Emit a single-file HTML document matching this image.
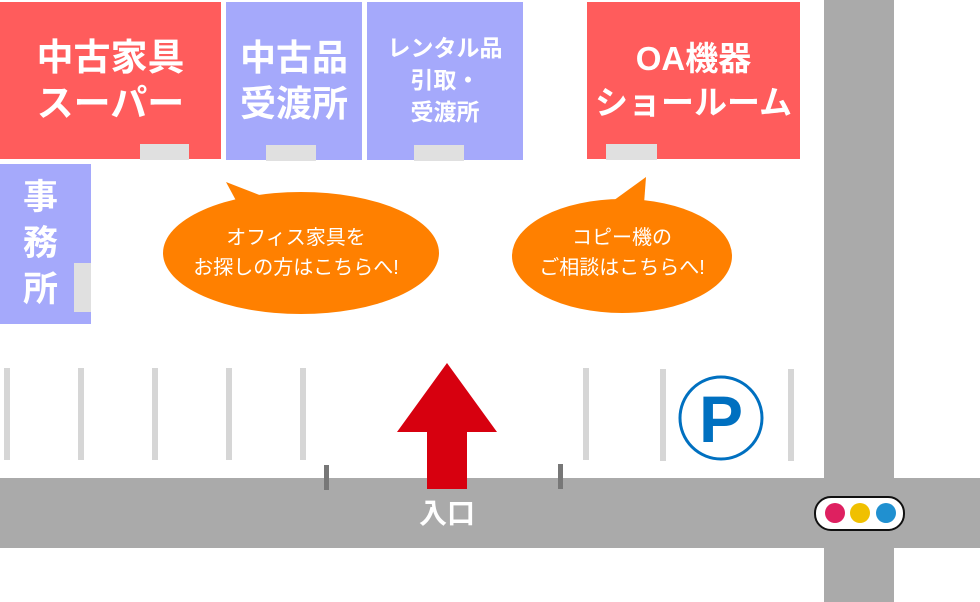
<!DOCTYPE html>
<html><head><meta charset="utf-8"><style>
body{margin:0;width:980px;height:602px;overflow:hidden;background:#fff;font-family:"Liberation Sans","Noto Sans CJK JP",sans-serif;}
.b{position:absolute;color:#fff;font-weight:bold;text-align:center;display:flex;flex-direction:column;justify-content:center;align-items:center;}
.t{position:absolute;background:#e0e0e0;}
</style></head><body>
<svg width="980" height="602" style="position:absolute;left:0;top:0">
<rect x="0" y="478" width="980" height="70" fill="#aaa"/>
<rect x="824" y="0" width="70" height="602" fill="#aaa"/>
<g fill="#d6d6d6">
<rect x="4" y="368" width="6" height="92"/><rect x="78" y="368" width="6" height="92"/><rect x="152" y="368" width="6" height="92"/><rect x="226" y="368" width="6" height="92"/><rect x="300" y="368" width="6" height="92"/>
<rect x="583" y="368" width="6" height="92"/><rect x="660" y="369" width="6" height="92"/><rect x="788" y="369" width="6" height="92"/>
</g>
<rect x="324" y="465" width="5" height="25" fill="#777"/><rect x="558" y="464" width="5" height="25" fill="#777"/>
<polygon points="447,363 497,432 467,432 467,489 427,489 427,432 397,432" fill="#d7000f"/>
<text x="447" y="523" fill="#fff" font-size="28" font-weight="bold" text-anchor="middle" font-family="Liberation Sans,Noto Sans CJK JP,sans-serif">入口</text>
<circle cx="721" cy="418" r="41" fill="none" stroke="#0070c0" stroke-width="3"/>
<text x="721" y="442" fill="#0070c0" font-size="66" font-weight="bold" text-anchor="middle" font-family="Liberation Sans,sans-serif">P</text>
<rect x="815" y="497" width="89" height="33" rx="16" fill="#fff" stroke="#111" stroke-width="2"/>
<circle cx="835" cy="513" r="10" fill="#de2060"/><circle cx="860" cy="513" r="10" fill="#f0c000"/><circle cx="886" cy="513" r="10" fill="#2090d0"/>
<g fill="#ff8000">
<ellipse cx="301" cy="253" rx="138" ry="61"/><polygon points="226,182 262,196 240,208"/>
<ellipse cx="622" cy="256" rx="110" ry="57"/><polygon points="646,177 606,206 644,204"/>
</g>
<g fill="#fff" font-size="20" text-anchor="middle" font-family="Liberation Sans,Noto Sans CJK JP,sans-serif">
<text x="296" y="244">オフィス家具を</text><text x="296" y="274">お探しの方はこちらへ!</text>
<text x="622" y="244">コピー機の</text><text x="622" y="274">ご相談はこちらへ!</text>
</g>
</svg>
<div class="b" style="left:0;top:2px;width:221px;height:157px;background:#ff5c5c;font-size:37px;line-height:46px">中古家具<br>スーパー</div>
<div class="t" style="left:140px;top:144px;width:49px;height:16px"></div>
<div class="b" style="left:226px;top:2px;width:136px;height:158px;background:#a5a9fb;font-size:36px;line-height:46px">中古品<br>受渡所</div>
<div class="t" style="left:266px;top:145px;width:50px;height:16px"></div>
<div class="b" style="left:367px;top:2px;width:156px;height:158px;background:#a5a9fb;font-size:23px;line-height:32px;justify-content:flex-start;padding-top:30px;box-sizing:border-box">レンタル品<br>引取・<br>受渡所</div>
<div class="t" style="left:414px;top:145px;width:50px;height:16px"></div>
<div class="b" style="left:587px;top:2px;width:213px;height:157px;background:#ff5c5c;font-size:33px;line-height:44px">OA機器<br>ショールーム</div>
<div class="t" style="left:606px;top:144px;width:51px;height:16px"></div>
<div class="b" style="left:0;top:164px;width:91px;height:160px;background:#a5a9fb;font-size:35px;line-height:46px;padding-right:10px;box-sizing:border-box">事<br>務<br>所</div>
<div class="t" style="left:74px;top:263px;width:17px;height:49px"></div>
</body></html>
